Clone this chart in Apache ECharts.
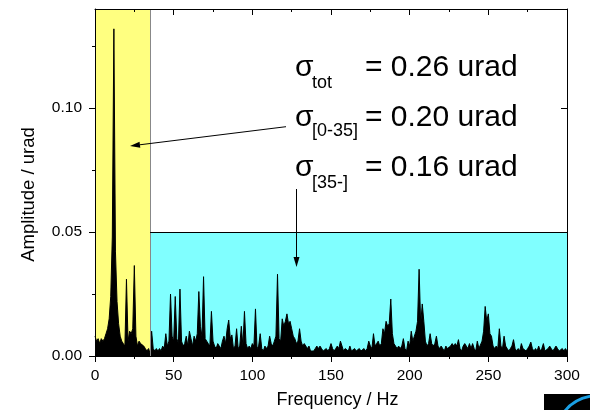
<!DOCTYPE html>
<html><head><meta charset="utf-8">
<script src="https://cdn.jsdelivr.net/npm/echarts@6/dist/echarts.min.js"></script>
<style>html,body{margin:0;padding:0;background:#fff}#c{width:590px;height:410px}</style>
</head><body><div id="c"></div>
<script>
// ---------- data ----------
const freqStepHz = 1;            // spectrum sampled every 1 Hz from 0 to 300 Hz
const amplitude = [
 0.008,0.006,0.007,0.005,0.007,0.006,0.007,0.009,0.011,0.015,
 0.024,0.048,0.132,0.042,0.022,0.013,0.008,0.006,0.005,0.004,
 0.031,0.006,0.010,0.009,0.011,0.0365,0.008,0.004,0.006,0.005,
 0.005,0.004,0.003,0.002,0.003,0.001,0.010,0.003,0.002,0.003,
 0.002,0.003,0.002,0.004,0.003,0.009,0.004,0.006,0.025,0.008,
 0.006,0.024,0.007,0.005,0.027,0.006,0.004,0.005,0.008,0.004,
 0.010,0.007,0.004,0.008,0.006,0.009,0.026,0.012,0.008,0.032,
 0.007,0.006,0.005,0.004,0.018,0.006,0.004,0.003,0.005,0.004,
 0.003,0.006,0.008,0.005,0.011,0.0145,0.007,0.0085,0.003,0.004,
 0.011,0.003,0.004,0.012,0.004,0.018,0.005,0.003,0.004,0.003,
 0.005,0.004,0.019,0.003,0.004,0.009,0.003,0.002,0.004,0.003,
 0.004,0.008,0.005,0.004,0.006,0.008,0.033,0.007,0.006,0.015,
 0.012,0.014,0.017,0.013,0.014,0.011,0.008,0.007,0.005,0.006,
 0.011,0.006,0.004,0.005,0.004,0.003,0.004,0.002,0.002,0.002,
 0.003,0.004,0.003,0.004,0.003,0.002,0.002,0.003,0.002,0.003,
 0.005,0.003,0.002,0.003,0.004,0.003,0.006,0.004,0.002,0.003,
 0.003,0.002,0.004,0.002,0.002,0.003,0.002,0.002,0.003,0.002,
 0.002,0.003,0.002,0.003,0.006,0.004,0.003,0.009,0.004,0.005,
 0.006,0.004,0.005,0.011,0.009,0.014,0.012,0.013,0.023,0.009,
 0.005,0.004,0.003,0.004,0.003,0.004,0.007,0.003,0.002,0.006,
 0.004,0.010,0.006,0.008,0.010,0.014,0.035,0.013,0.021,0.014,
 0.006,0.004,0.005,0.009,0.005,0.004,0.005,0.008,0.004,0.003,
 0.004,0.003,0.002,0.004,0.003,0.003,0.004,0.005,0.004,0.005,
 0.004,0.0066,0.003,0.002,0.004,0.005,0.004,0.003,0.005,0.003,
 0.005,0.003,0.002,0.006,0.003,0.003,0.006,0.010,0.020,0.014,
 0.017,0.009,0.008,0.004,0.003,0.004,0.003,0.011,0.004,0.003,
 0.008,0.004,0.003,0.002,0.003,0.004,0.0066,0.003,0.002,0.003,
 0.002,0.005,0.003,0.003,0.002,0.003,0.004,0.0056,0.003,0.002,
 0.003,0.002,0.004,0.002,0.003,0.005,0.002,0.002,0.003,0.004,
 0.003,0.002,0.003,0.004,0.003,0.002,0.002,0.003,0.002,0.003,
 0.002
];
const xRange = [0, 300];
const xTickStep = 50;
const yRange = [0, 0.14];
const yMajorTicks = [0, 0.05, 0.10];
const yMinorTicks = [0.025, 0.075, 0.125];
const lowBandHz = [0, 35];          // yellow band
const highBandHz = [35, 300];       // cyan band
const highBandLevel = 0.05;
const sigmaSubs = ['tot', '[0-35]', '[35-]'];
const sigmaValues = ['0.26', '0.20', '0.16'];
const sigmaUnit = 'urad';

// ---------- chart ----------
const FONT = 'Liberation Sans, Arial, Helvetica, sans-serif';
const spectrum = amplitude.map((a, i) => [i * freqStepHz, a]);
const chart = echarts.init(document.getElementById('c'), null, {renderer: 'canvas'});

const axLine = {show: true, onZero: false, lineStyle: {color: '#000', width: 1}};
const tickStyle = {color: '#000', width: 1};
function xAx(pos, labels) {
  return {
    type: 'value', position: pos, min: xRange[0], max: xRange[1], interval: xTickStep, z: 10,
    axisLine: axLine,
    axisTick: {show: true, inside: !labels, length: 6, lineStyle: tickStyle},
    minorTick: {show: true, splitNumber: 2, length: 3, lineStyle: tickStyle},
    splitLine: {show: false}, minorSplitLine: {show: false},
    axisLabel: {show: labels, color: '#000', fontSize: 15.5, fontFamily: FONT, margin: 12},
    name: labels ? 'Frequency / Hz' : '', nameLocation: 'middle', nameGap: 35,
    nameTextStyle: {color: '#000', fontSize: 18, fontFamily: FONT, padding: [0, 0, 0, 13]}
  };
}
function yAx(pos, ticks, len, line, labels) {
  return {
    type: 'value', position: pos, min: yRange[0], max: yRange[1], z: 10,
    axisLine: line ? axLine : {show: false},
    axisTick: {show: true, inside: pos === 'right', length: len, lineStyle: tickStyle, customValues: ticks},
    splitLine: {show: false},
    axisLabel: {show: labels, customValues: ticks, color: '#000', fontSize: 15.5, fontFamily: FONT, margin: 13,
      formatter: v => v.toFixed(2)},
    name: labels ? 'Amplitude / urad' : '', nameLocation: 'middle', nameGap: 57,
    nameTextStyle: {color: '#000', fontSize: 18.5, fontFamily: FONT, padding: [0, 24, 0, 0]}
  };
}

// arrows (annotation, pixel layout)
function arrow(x1, y1, x2, y2, len, half) {
  const dx = x1 - x2, dy = y1 - y2, d = Math.hypot(dx, dy);
  const ux = dx / d, uy = dy / d;
  const bx = x2 + ux * len, by = y2 + uy * len;
  return [
    {type: 'line', shape: {x1: x1, y1: y1, x2: bx, y2: by}, style: {stroke: '#000', lineWidth: 1}, z: 20},
    {type: 'polygon', shape: {points: [[x2, y2], [bx - uy * half, by + ux * half], [bx + uy * half, by - ux * half]]},
      style: {fill: '#000'}, z: 20}
  ];
}

const graphics = [];
const baseY = [78.5, 128.5, 178.5];
const subY = [89.5, 137, 189];
sigmaSubs.forEach((s, i) => {
  graphics.push({type: 'text', x: 295, y: baseY[i] - 0.3465 * 30, z: 20,
    style: {text: 'σ', fontSize: 30, fontFamily: FONT, fill: '#000', verticalAlign: 'middle'}});
  graphics.push({type: 'text', x: 312, y: subY[i] - 0.3465 * 18, z: 20,
    style: {text: s, fontSize: 18, fontFamily: FONT, fill: '#000', verticalAlign: 'middle'}});
  graphics.push({type: 'text', x: 365, y: baseY[i] - 0.3465 * 30, z: 20,
    style: {text: '= ' + sigmaValues[i] + ' ' + sigmaUnit, fontSize: 30, fontFamily: FONT, fill: '#000', verticalAlign: 'middle'}});
});
graphics.push(...arrow(286, 126.7, 130, 146, 10, 3));
graphics.push(...arrow(296.5, 189, 296.5, 267, 10, 3));
// corner logo fragment
graphics.push({type: 'rect', shape: {x: 544, y: 394, width: 46, height: 16}, style: {fill: '#000'}, z: 20});
graphics.push({type: 'bezierCurve', shape: {x1: 565, y1: 411, cpx1: 574, cpy1: 399, x2: 591, y2: 396},
  style: {stroke: '#1a9fe3', lineWidth: 3, fill: null}, z: 21});

chart.setOption({
  animation: false,
  backgroundColor: '#fff',
  grid: {left: 95, right: 23, top: 9, bottom: 54, containLabel: false, outerBoundsMode: 'none'},
  xAxis: [xAx('bottom', true), xAx('top', false)],
  yAxis: [
    yAx('left', yMajorTicks, 6, true, true),
    yAx('left', yMinorTicks, 3, false, false),
    yAx('right', yMajorTicks, 6, true, false),
    yAx('right', yMinorTicks, 3, false, false)
  ],
  series: [{
    type: 'line', data: spectrum, xAxisIndex: 0, yAxisIndex: 0,
    symbol: 'none', z: 3, silent: true,
    lineStyle: {color: '#000', width: 1},
    areaStyle: {color: '#000', opacity: 1},
    markArea: {
      silent: true,
      data: [
        [{xAxis: lowBandHz[0], yAxis: yRange[0], itemStyle: {color: '#ffff80'}}, {xAxis: lowBandHz[1], yAxis: yRange[1]}],
        [{xAxis: highBandHz[0], yAxis: yRange[0], itemStyle: {color: '#80ffff'}}, {xAxis: highBandHz[1], yAxis: highBandLevel}]
      ],
      itemStyle: {opacity: 1, borderWidth: 0}
    },
    markLine: {
      silent: true, symbol: 'none', label: {show: false},
      data: [
        [{coord: [lowBandHz[1], yRange[0]], lineStyle: {color: '#888', width: 1, type: 'solid'}}, {coord: [lowBandHz[1], yRange[1]]}],
        [{coord: [highBandHz[0], highBandLevel], lineStyle: {color: '#000', width: 1, type: 'solid'}}, {coord: [highBandHz[1], highBandLevel]}]
      ]
    }
  }],
  graphic: graphics
});
</script></body></html>
